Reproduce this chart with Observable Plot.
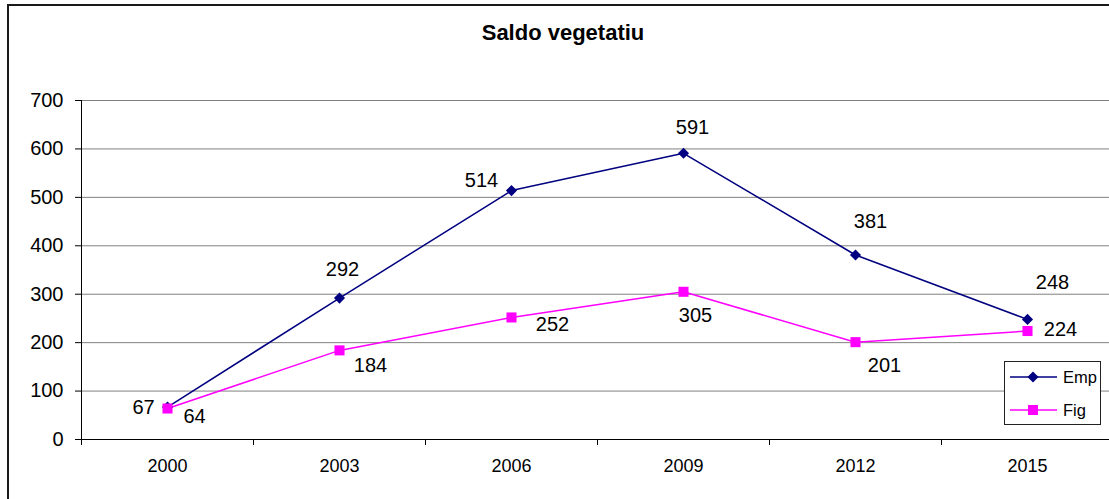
<!DOCTYPE html>
<html>
<head>
<meta charset="utf-8">
<script src="https://cdn.jsdelivr.net/npm/d3@7"></script>
<script src="https://cdn.jsdelivr.net/npm/@observablehq/plot@0.6"></script>
<style>
  html, body { margin: 0; padding: 0; background: #fff; width: 1109px; height: 499px; overflow: hidden; }
  body { position: relative; font-family: "Liberation Sans", Arial, sans-serif; color: #000; }
  #frame { position: absolute; left: 7px; top: 4px; width: 1200px; height: 600px; border: 2px solid #1a1a1a; box-sizing: border-box; }
  #title { position: absolute; left: 0; top: 22px; width: 1126px; text-align: center; font-weight: bold; font-size: 22px; line-height: 22px; }
  #plotwrap { position: absolute; left: 0; top: 60px; width: 1109px; height: 439px; overflow: hidden; }
  #legend { position: absolute; left: 1004px; top: 361px; width: 97px; height: 64px; border: 1px solid #222; background: #fff; box-sizing: border-box; }
  #legend svg { display: block; }
</style>
</head>
<body>
<div id="frame"></div>
<div id="title">Saldo vegetatiu</div>
<div id="plotwrap"></div>
<div id="legend"></div>
<script>
// ---- data ----
const years = ["2000", "2003", "2006", "2009", "2012", "2015"];
const empValues = [67, 292, 514, 591, 381, 248];
const figValues = [64, 184, 252, 305, 201, 224];
const seriesNames = ["Emp", "Fig"];
const yTicks = [0, 100, 200, 300, 400, 500, 600, 700];

// ---- styles ----
const seriesColors = ["#000080", "#FF00FF"];
const seriesSymbols = ["diamond2", "square2"];
const seriesRadius = [5, 6.4];
// label offsets (px) relative to each point, as placed in the original
const empLabelOffsets = [[-24, 1], [3, -28], [-30, -10], [9, -26], [15, -33], [25, -37]];
const figLabelOffsets = [[27, 8], [31, 15], [41, 7], [12, 24], [29, 23], [33, -1]];

const seriesValues = [empValues, figValues];
const seriesOffsets = [empLabelOffsets, figLabelOffsets];

const rows = [];
seriesNames.forEach((s, k) => {
  seriesValues[k].forEach((v, i) => {
    rows.push({series: s, k, i, year: years[i], value: v, dx: seriesOffsets[k][i][0], dy: seriesOffsets[k][i][1]});
  });
});

const font = "'Liberation Sans', Arial, sans-serif";
const idx = years.map((_, i) => i);
const boundaries = [-0.5, ...idx.map(i => i + 0.5)];

const marks = [
  // gridlines
  Plot.ruleY(yTicks.filter(d => d > 0), {stroke: "#808080", strokeWidth: 1}),
  // axes lines
  Plot.ruleY([0], {stroke: "#000", strokeWidth: 1}),
  Plot.ruleX([-0.5], {y1: 0, y2: 700, stroke: "#000", strokeWidth: 1}),
  Plot.axisY({ticks: yTicks, tickSize: 6, tickPadding: 12, fontSize: 20, label: null, tickFormat: d => String(d), stroke: "#000"}),
  Plot.axisX({ticks: boundaries, tickSize: 6, tickFormat: () => "", label: null, stroke: "#000"}),
  Plot.axisX({ticks: idx, tickSize: 0, tickPadding: 20, fontSize: 18, label: null, tickFormat: i => years[i]}),
];

seriesNames.forEach((s, k) => {
  const data = rows.filter(r => r.k === k);
  marks.push(Plot.line(data, {x: "i", y: "value", stroke: seriesColors[k], strokeWidth: 1.5}));
});
seriesNames.forEach((s, k) => {
  const data = rows.filter(r => r.k === k);
  marks.push(Plot.dot(data, {x: "i", y: "value", symbol: () => seriesSymbols[k], fill: seriesColors[k], stroke: "none", r: seriesRadius[k]}));
});
rows.forEach(r => {
  marks.push(Plot.text([r], {x: "i", y: "value", text: d => String(d.value), dx: r.dx, dy: r.dy, fontSize: 20, fill: "#000"}));
});

const chart = Plot.plot({
  width: 1130,
  height: 439,
  marginTop: 40,
  marginBottom: 60,
  marginLeft: 81,
  marginRight: 0,
  style: {fontFamily: font, background: "transparent", overflow: "hidden", color: "#000", maxWidth: "none"},
  x: {type: "linear", domain: [-0.5, 5.5], range: [81, 1113]},
  y: {type: "linear", domain: [0, 700], range: [379, 40]},
  symbol: {domain: seriesSymbols, range: seriesSymbols},
  marks
});
document.getElementById("plotwrap").appendChild(chart);

// ---- legend ----
const lg = d3.select("#legend").append("svg").attr("width", 95).attr("height", 62);
const rowY = [15, 48];
const symGen = [d3.symbolDiamond2, d3.symbolSquare2];
seriesNames.forEach((s, k) => {
  const g = lg.append("g").attr("transform", `translate(0,${rowY[k]})`);
  g.append("line").attr("x1", 5).attr("x2", 52).attr("y1", 0).attr("y2", 0)
    .attr("stroke", seriesColors[k]).attr("stroke-width", 1.5);
  g.append("path").attr("transform", "translate(28,0)")
    .attr("d", d3.symbol(symGen[k], Math.PI * seriesRadius[k] * seriesRadius[k])())
    .attr("fill", seriesColors[k]);
  g.append("text").attr("x", 58).attr("y", 0).attr("dy", "0.35em")
    .attr("font-family", font).attr("font-size", 16.5).attr("fill", "#000").text(s);
});
</script>
</body>
</html>
